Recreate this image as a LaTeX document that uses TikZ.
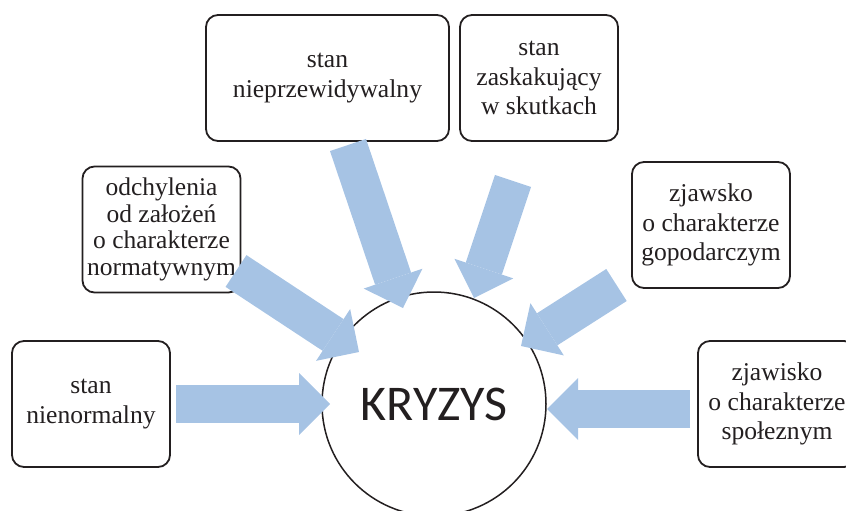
\documentclass[tikz,border=0pt]{standalone}
\usepackage{fontspec}
\setmainfont{Liberation Serif}
\newfontfamily\kryzysfont{Carlito}
\usetikzlibrary{arrows.meta}
\definecolor{ink}{HTML}{231F20}
\definecolor{strzalka}{HTML}{A6C3E4}
\newcommand{\boxfont}{\fontsize{25.6}{29.5}\selectfont}
\begin{document}
\begin{tikzpicture}[x=1pt, y=-1pt,
    every node/.style={text=ink},
    stanbox/.style={draw=ink, line width=1.8pt, rounded corners=12pt,
      minimum width=158pt, minimum height=126pt, inner sep=0pt,
      align=center, font=\boxfont},
    blok/.style={draw=strzalka, line width=38pt,
      -{Triangle[width=62pt, length=31pt, line width=0pt]}}]
    \useasboundingbox (0, 0) rectangle (846, 511);

    % pola z opisami
    \node[stanbox, minimum width=243pt] (nieprzew) at (327.5, 78) {stan\\nieprzewidywalny};
    \node[stanbox] (zaskak) at (539, 78) {stan\\zaskakujący\\w skutkach};
    \node[stanbox, font=\fontsize{25.5}{26.5}\selectfont] (odchyl) at (161.5, 229.5)
      {odchylenia\\od założeń\\o charakterze\\normatywnym};
    \node[stanbox] (gospod) at (711, 225) {zjawsko\\o charakterze\\gopodarczym};
    \node[stanbox] (nienorm) at (91, 404) {stan\\nienormalny};
    \node[stanbox] (spolecz) at (777, 404) {zjawisko\\o charakterze\\społeznym};

    \node[draw=ink, circle, line width=1.5pt, minimum size=224pt,
      font=\kryzysfont\fontsize{50}{60}\selectfont] (kryzys) at (434, 404) {KRYZYS};

    % strzalki
    \coordinate (startA) at (348, 145);  \coordinate (celA) at (403, 308);
    \coordinate (startB) at (513, 181);  \coordinate (celB) at (474, 298);
    \coordinate (startC) at (236, 271);  \coordinate (celC) at (359, 352);
    \coordinate (startD) at (616.5, 285); \coordinate (celD) at (521, 346);
    \coordinate (startE) at (176, 404);  \coordinate (celE) at (330, 404);
    \coordinate (startF) at (690, 409);  \coordinate (celF) at (547, 409);

    \draw[blok] (startA) -- (celA);
    \draw[blok] (startB) -- (celB);
    \draw[blok] (startC) -- (celC);
    \draw[blok] (startD) -- (celD);
    \draw[blok] (startE) -- (celE);
    \draw[blok] (startF) -- (celF);
  \end{tikzpicture}
\end{document}
